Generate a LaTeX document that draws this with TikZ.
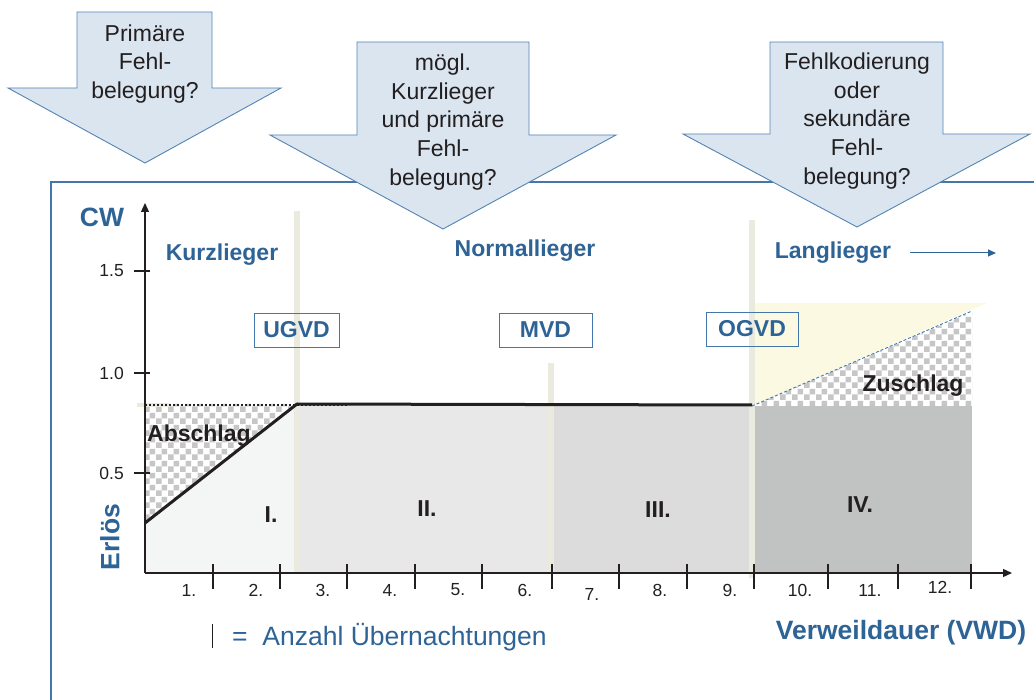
\documentclass[tikz,border=0pt]{standalone}
\usepackage{fontspec}
\setmainfont{Liberation Sans}
\usepackage{tikz}
\usetikzlibrary{arrows.meta,positioning,patterns.meta}
\definecolor{dblue}{RGB}{46,99,150}
\definecolor{fblue}{RGB}{68,118,170}
\definecolor{pfeil}{RGB}{218,229,240}
\definecolor{pfeilrand}{RGB}{84,132,178}
\definecolor{balken}{RGB}{234,234,222}
\definecolor{zoneI}{RGB}{244,246,246}
\definecolor{zoneII}{RGB}{232,232,232}
\definecolor{zoneIII}{RGB}{220,220,220}
\definecolor{zoneIV}{RGB}{193,194,194}
\definecolor{gelb}{RGB}{251,249,225}
\definecolor{karo}{RGB}{198,198,198}
\definecolor{schwarz}{RGB}{35,31,32}
\tikzdeclarepattern{
  name=karos,
  type=uncolored,
  bottom left={(0pt,0pt)},
  top right={(12pt,12pt)},
  tile size={(12pt,12pt)},
  code={
    \fill (0pt,0pt) rectangle (6pt,6pt);
    \fill (6pt,6pt) rectangle (12pt,12pt);
  }
}
\tikzset{
  rahmen/.style={draw=fblue, line width=2pt},
  pfeilform/.style={fill=pfeil, draw=pfeilrand, line width=0.9pt, line join=miter},
  pfeiltext/.style={font=\fontsize{23}{28.7}\selectfont, align=center, text=schwarz, inner sep=0pt},
  titel/.style={font=\fontsize{23}{27}\selectfont\bfseries, text=dblue, inner sep=0pt},
  achsentitel/.style={font=\fontsize{26.5}{30}\selectfont\bfseries, text=dblue, inner sep=0pt},
  marke/.style={titel, draw=fblue, line width=0.9pt, minimum height=34pt},
  zahl/.style={font=\fontsize{17.5}{20}\selectfont, text=schwarz, inner sep=0pt},
  zonentext/.style={font=\fontsize{23}{27}\selectfont\bfseries, text=schwarz, inner sep=0pt},
  legende/.style={font=\fontsize{26.5}{30}\selectfont, text=dblue, inner sep=0pt},
  karofeld/.style={fill=white, postaction={pattern=karos, pattern color=karo}},
  balkenstil/.style={draw=balken, line width=6pt},
  achse/.style={draw=schwarz, line width=1.3pt, -{Triangle[length=9pt,width=8pt]}},
  strich/.style={draw=schwarz, line width=1.2pt},
  erloes/.style={draw=schwarz, line width=3pt, line join=round},
}
\begin{document}
\begin{tikzpicture}[x=1pt,y=-1pt]
\useasboundingbox (0,0) rectangle (1034,700);

\draw[rahmen] (1040,182) -- (51,182) -- (51,706);

\filldraw[pfeilform] (77,12) -- (212,12) -- (212,88) -- (281,88) -- (145,163) -- (8,88) -- (77,88) -- cycle;
\node[pfeiltext] (frage1) at (145,64) {Primäre\\Fehl-\\belegung?};
\filldraw[pfeilform] (357,42) -- (529,42) -- (529,135) -- (616,135) -- (443,229) -- (270,135) -- (357,135) -- cycle;
\node[pfeiltext] (frage2) at (443,122) {mögl.\\Kurzlieger\\und primäre\\Fehl-\\belegung?};
\filldraw[pfeilform] (770,42) -- (943,42) -- (943,134) -- (1030,134) -- (857,227) -- (683,134) -- (770,134) -- cycle;
\node[pfeiltext] (frage3) at (857,121) {Fehlkodierung\\oder\\sekundäre\\Fehl-\\belegung?};

\fill[gelb] (752,406) -- (987,303) -- (752,303) -- cycle;
\fill[zoneI] (145,573) -- (145,523) -- (297,404) -- (297,573) -- cycle;
\fill[zoneII] (297,404) rectangle (551,573);
\fill[zoneIII] (551,405) rectangle (752,573);
\fill[zoneIV] (752,406) rectangle (972,573);
\fill[karofeld] (145,404) -- (297,404) -- (145,523) -- cycle;
\fill[karofeld] (752,406) -- (972,312) -- (972,406) -- cycle;

\draw[balkenstil] (297,211) -- (297,573);
\draw[balkenstil] (551,363) -- (551,573);
\draw[balkenstil] (752,220) -- (752,578);
\draw[balken, line width=4pt] (137,405) -- (170,405);

\draw[schwarz, line width=1.2pt, dash pattern=on 2pt off 2pt] (145,405) -- (349,405);
\draw[fblue, line width=0.9pt, dash pattern=on 3pt off 2pt] (752,406) -- (972,311);

\coordinate (e0) at (145,523);
\coordinate (e1) at (297,404);
\coordinate (e2) at (752,405);
\draw[erloes] (e0) -- (e1) -- (e2);

\coordinate (O) at (145,573);
\coordinate (ytop) at (145,203);
\coordinate (xend) at (1012,573);
\draw[achse] (O) -- (ytop);
\draw[achse] (O) -- (xend);

\foreach \t in {213,280,347,415,482,552,619,687,754,828,898,971}
  \draw[strich] (\t,564) -- (\t,589);
\foreach \lx/\ly/\n in {189/590/1,256/590/2,323/590/3,390/590/4,458/590/5,525/590/6,592/594/7,660/590/8,730/590/9,800/590/10,870/590/11,940/587/12}
  \node[zahl] (tag\n) at (\lx,\ly) {\n.};
\foreach \w/\y in {1.5/271,1.0/373,0.5/473}
{
  \draw[strich] (134,\y) -- (150,\y);
  \node[zahl, anchor=east] (cw\y) at (124,\y) {\w};
}

\node[achsentitel] (cw) at (102,217) {CW};
\node[achsentitel, rotate=90] (erloes) at (110,537) {Erlös};
\node[achsentitel] (vwd) at (901,633) {Verweildauer (VWD)};

\node[titel] (kurz) at (222,255) {Kurzlieger};
\node[titel] (normal) at (525,251) {Normallieger};
\node[titel] (lang) at (833,253) {Langlieger};
\coordinate[right=19pt of lang] (la1);
\coordinate (la2) at (996,253);
\draw[dblue, line width=1pt, -{Triangle[length=8pt,width=7pt]}] (la1) -- (la2);

\node[marke, minimum width=85pt] (ugvd) at (296.5,330) {UGVD};
\node[marke, minimum width=93pt] (mvd) at (545.5,330) {MVD};
\node[marke, minimum width=92pt] (ogvd) at (752,329) {OGVD};

\node[zonentext, anchor=west] (abschlag) at (147,436) {Abschlag};
\node[zonentext] (zuschlag) at (913,386) {Zuschlag};
\node[zonentext] (z1) at (271,515) {I.};
\node[zonentext] (z2) at (427,509) {II.};
\node[zonentext] (z3) at (658,510) {III.};
\node[zonentext] (z4) at (860,505) {IV.};

\coordinate (s1) at (212,624);
\coordinate (s2) at (212,648);
\coordinate (sm) at (212,637);
\draw[schwarz, line width=1pt] (s1) -- (s2);
\node[legende, right=20pt of sm] (leg) {=~ Anzahl Übernachtungen};
\end{tikzpicture}
\end{document}
